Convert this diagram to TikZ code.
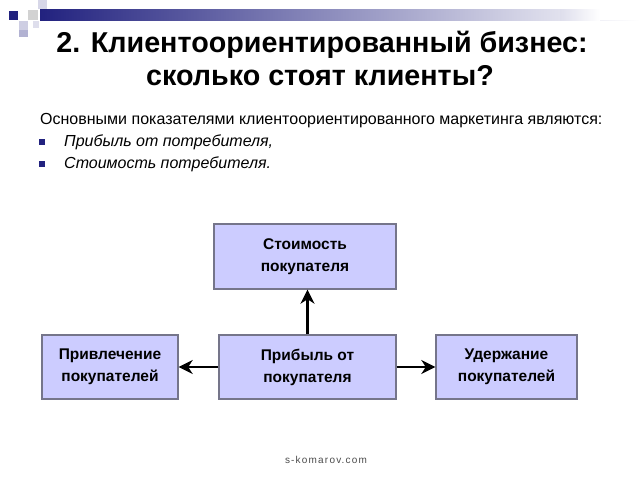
\documentclass[tikz,border=0pt]{standalone}
\usepackage{fontspec}
\setmainfont{Liberation Sans}
\usetikzlibrary{arrows.meta,calc}
\definecolor{navy}{HTML}{22227F}
\definecolor{boxfill}{HTML}{CCCCFF}
\definecolor{boxline}{HTML}{75758A}
\tikzset{
  box/.style={draw=boxline, line width=1.4pt, fill=boxfill, align=center,
    font=\fontsize{15.5}{22}\selectfont\bfseries, inner sep=0pt},
  arr/.style={line width=2.2pt, -{Stealth[length=14pt,width=14pt,inset=4.5pt]}},
  bodytxt/.style={anchor=base west, inner sep=0pt, font=\fontsize{16}{18}\selectfont},
  titletxt/.style={anchor=base, inner sep=0pt, font=\fontsize{28.7}{32}\selectfont\bfseries}
}
\begin{document}
\begin{tikzpicture}[x=1pt,y=-1pt]
\useasboundingbox (0,0) rectangle (640,480);
\fill[white] (0,0) rectangle (640,480);
% header decoration
\shade[left color=navy, right color=white, middle color=navy!50!white] (40,9) rectangle (640,20);
\fill[white] (600,9) rectangle (640,20);
\shade[left color=navy!15!white, right color=white] (560,9) rectangle (600,20);
\fill[navy] (9,11) rectangle (18,20);
\fill[gray!35!white] (28,10) rectangle (38,20);
\fill[navy!18!white] (38,0) rectangle (47,9);
\fill[navy!22!white] (19,21) rectangle (28,30);
\fill[navy!35!white] (19,30) rectangle (28,37);
\fill[navy!15!white] (33,21) rectangle (39,28);
% title
\node[titletxt] (t1) at (322,52) {2. Клиентоориентированный бизнес:};
\node[titletxt] (t2) at (320,85) {сколько стоят клиенты?};
% body
\node[bodytxt] (b0) at (40,124) {Основными показателями клиентоориентированного маркетинга являются:};
\node[bodytxt] (b1) at (64,146) {\itshape Прибыль от потребителя,};
\node[bodytxt] (b2) at (64,168) {\itshape Стоимость потребителя.};
\fill[navy] (39,139) rectangle (44.5,144.5);
\fill[navy] (39,161) rectangle (44.5,166.5);
% boxes
\node[box, minimum width=182pt, minimum height=65pt] (top) at (305,256.5) {Стоимость\\покупателя};
\node[box, minimum width=177pt, minimum height=64pt] (mid) at (307.5,367) {Прибыль от\\покупателя};
\node[box, minimum width=136pt, minimum height=64pt] (left) at (110,367) {Привлечение\\покупателей};
\node[box, minimum width=141pt, minimum height=64pt] (right) at (506.5,367) {Удержание\\покупателей};
% arrows
\draw[arr] (mid.north) -- (mid.north |- top.south);
\draw[arr] (mid.west) -- (left.east);
\draw[arr] (mid.east) -- (right.west);
% footer
\node[inner sep=0pt, font=\fontsize{10}{11}\selectfont\addfontfeature{LetterSpace=12}, text=black!70] (foot) at (326,460) {s-komarov.com};
\end{tikzpicture}
\end{document}
